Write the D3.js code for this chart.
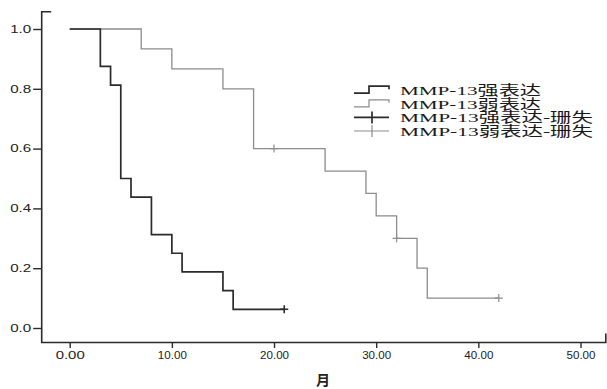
<!DOCTYPE html>
<html>
<head>
<meta charset="utf-8">
<script src="https://cdn.jsdelivr.net/npm/d3@7"></script>
<style>
 body { margin: 0; background: white; }
</style>
</head>
<body>
<div id="chart"></div>
<script>
var width = 607;
var height = 389;

// survival data
var strongTime = [0, 3, 4, 5, 6, 8, 10, 11, 15, 16, 21];
var strongSurv = [1, 0.875, 0.8125, 0.5, 0.4375, 0.3125, 0.25, 0.1875, 0.125, 0.0625, 0.0625];
var weakTime = [0, 7, 10, 15, 18, 25, 29, 30, 32, 34, 35, 42];
var weakSurv = [1, 0.9333, 0.8667, 0.8, 0.6, 0.525, 0.45, 0.375, 0.3, 0.2, 0.1, 0.1];
var strongCensorTime = [21];
var strongCensorSurv = [0.0625];
var weakCensorTime = [20, 32, 42];
var weakCensorSurv = [0.6, 0.3, 0.1];
var xTicks = [0, 10, 20, 30, 40, 50];
var yTicks = [0, 0.2, 0.4, 0.6, 0.8, 1.0];
var legendLabels = ["MMP-13强表达", "MMP-13弱表达", "MMP-13强表达-珊失", "MMP-13弱表达-珊失"];

var darkCol = "#2b2b2b";
var grayCol = "#8c8c8c";

var svg = d3.select("#chart")
  .append("svg")
  .attr("width", width)
  .attr("height", height)
  .style("background-color", "white");

var x = d3.scaleLinear().domain([0, 50]).range([69.7, 580.5]);
var y = d3.scaleLinear().domain([0, 1]).range([328, 29]);

var axisX0 = 41.7;   // y axis position
var axisY0 = 342.5;  // x axis position

// frame (L shape with little end caps)
svg.append("path")
  .attr("d", "M" + (axisX0 + 9.5) + ",11.7H" + axisX0 + "V" + axisY0 + "H605.8V333.5")
  .attr("fill", "none")
  .attr("stroke", darkCol)
  .attr("stroke-width", 1.6);

// y ticks
var yAxis = svg.append("g").attr("transform", "translate(" + axisX0 + ",0)")
  .call(d3.axisLeft(y).tickValues(yTicks).tickFormat(d3.format(".1f")).tickSize(8.5).tickPadding(2));
yAxis.select(".domain").remove();
yAxis.selectAll("line").attr("stroke", darkCol).attr("stroke-width", 1.4);
yAxis.selectAll("text")
  .attr("fill", "#222")
  .style("font-family", "Liberation Sans, Arial, sans-serif")
  .style("font-size", "10px")
  .attr("textLength", 21)
  .attr("lengthAdjust", "spacingAndGlyphs");

// x ticks
var xAxis = svg.append("g").attr("transform", "translate(0," + axisY0 + ")")
  .call(d3.axisBottom(x).tickValues(xTicks).tickFormat(d3.format(".2f")).tickSize(5.5).tickPadding(4));
xAxis.select(".domain").remove();
xAxis.selectAll("line").attr("stroke", darkCol).attr("stroke-width", 1.4);
xAxis.selectAll("text")
  .attr("fill", "#222")
  .style("font-family", "Liberation Sans, Arial, sans-serif")
  .style("font-size", "10px")
  .attr("textLength", 29)
  .attr("lengthAdjust", "spacingAndGlyphs");

// x axis title
svg.append("text")
  .attr("x", 323)
  .attr("y", 385)
  .attr("text-anchor", "middle")
  .style("font-family", "Noto Sans CJK SC, sans-serif")
  .style("font-weight", "bold")
  .style("font-size", "14px")
  .attr("fill", "#222")
  .text("月");

// survival steps
var line = d3.line()
  .x(function(d) { return x(d[0]); })
  .y(function(d) { return y(d[1]); })
  .curve(d3.curveStepAfter);

svg.append("path")
  .datum(d3.zip(weakTime, weakSurv))
  .attr("d", line)
  .attr("fill", "none")
  .attr("stroke", grayCol)
  .attr("stroke-width", 1.3);

svg.append("path")
  .datum(d3.zip(strongTime, strongSurv))
  .attr("d", line)
  .attr("fill", "none")
  .attr("stroke", darkCol)
  .attr("stroke-width", 1.7);

// censor marks
function plus(t, s, col, w) {
  var cx = x(t), cy = y(s);
  svg.append("path")
    .attr("d", "M" + (cx - 4) + "," + cy + "H" + (cx + 4) + "M" + cx + "," + (cy - 4) + "V" + (cy + 4))
    .attr("stroke", col)
    .attr("stroke-width", w)
    .attr("fill", "none");
}
strongCensorTime.forEach(function(t, i) { plus(t, strongCensorSurv[i], darkCol, 1.6); });
weakCensorTime.forEach(function(t, i) { plus(t, weakCensorSurv[i], grayCol, 1.2); });

// legend
var legX = 354, legRow = 13.6, legBase = 95.2;
var legend = svg.append("g");
var legCols = [darkCol, grayCol, darkCol, grayCol];
var legW = [1.7, 1.2, 1.7, 1.2];
legendLabels.forEach(function(lab, i) {
  var b = legBase + i * legRow;
  var c = b - 5;
  if (i < 2) {
    legend.append("path")
      .attr("d", "M" + legX + "," + (c + 3) + "H" + (legX + 15) + "V" + (c - 4) + "H" + (legX + 35) + "V" + (c - 1))
      .attr("fill", "none").attr("stroke", legCols[i]).attr("stroke-width", legW[i]);
  } else {
    legend.append("path")
      .attr("d", "M" + legX + "," + c + "H" + (legX + 35) + "M" + (legX + 18) + "," + (c - 6) + "V" + (c + 6))
      .attr("fill", "none").attr("stroke", legCols[i]).attr("stroke-width", legW[i]);
  }
  legend.append("text")
    .attr("x", 400)
    .attr("y", b)
    .style("font-family", "Liberation Serif, Noto Sans CJK SC, serif")
    .style("font-size", "13.5px")
    .attr("fill", "#1a1a1a")
    .attr("textLength", i < 2 ? 141 : 193)
    .attr("lengthAdjust", "spacingAndGlyphs")
    .text(lab);
});
</script>
</body>
</html>
